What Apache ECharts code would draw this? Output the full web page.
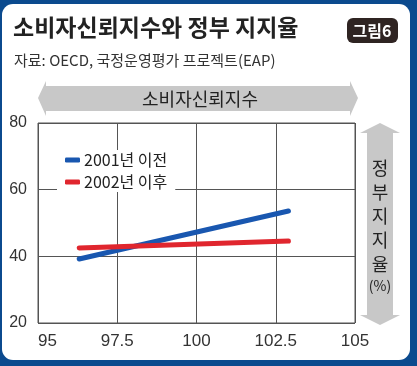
<!DOCTYPE html>
<html><head><meta charset="utf-8">
<script src="https://cdn.jsdelivr.net/npm/echarts@6/dist/echarts.min.js"></script>
<style>html,body{margin:0;padding:0;background:#0b4a8e;}#c{width:417px;height:366px;}</style>
</head><body><div id="c"></div>
<script>
const seriesNames = ['2001년 이전', '2002년 이후'];
const xPoints = [96.3, 102.9];
const before2001 = [39.2, 53.6];
const after2002 = [42.5, 44.6];
const xTicks = [95, 97.5, 100, 102.5, 105];
const yTicks = [20, 40, 60, 80];
const title = '소비자신뢰지수와 정부 지지율';
const subtitle = '자료: OECD, 국정운영평가 프로젝트(EAP)';
const badge = '그림6';
const xName = '소비자신뢰지수';
const yName = ['정','부','지','지','율','(%)'];

const numFont = '"Liberation Sans Narrow", "Liberation Sans", sans-serif';
const krFont = '"Noto Sans CJK KR", sans-serif';
const chart = echarts.init(document.getElementById('c'));
const gray = '#c8c8c8';
chart.setOption({
  backgroundColor: '#0b4a8e',
  animation: false,
  grid: {left: 38, right: 62, top: 123, bottom: 43, show: true, borderColor: '#555', borderWidth: 1, backgroundColor: 'transparent', z: 3},
  xAxis: {type: 'value', min: xTicks[0], max: xTicks[xTicks.length-1], interval: 2.5,
    axisLine: {show: false}, axisTick: {show: false},
    splitLine: {show: true, lineStyle: {color: '#555', width: 1}},
    axisLabel: {margin: 10, fontSize: 17, color: '#333', fontFamily: numFont, alignMinLabel: 'left',
      formatter: v => String(v)}},
  yAxis: {type: 'value', min: yTicks[0], max: yTicks[yTicks.length-1], interval: 20,
    axisLine: {show: false}, axisTick: {show: false},
    splitLine: {show: true, lineStyle: {color: '#555', width: 1}},
    axisLabel: {margin: 11, fontSize: 16, color: '#333', fontFamily: numFont}},
  legend: {left: 57, top: 150, orient: 'vertical', backgroundColor: '#fff', padding: [2, 8, 2, 8],
    itemWidth: 15, itemHeight: 5, itemGap: 6, icon: 'roundRect',
    textStyle: {fontSize: 16, color: '#222', fontFamily: krFont, padding: [0,0,0,-1]},
    data: seriesNames},
  series: [
    {name: seriesNames[0], type: 'line', showSymbol: false, z: 5,
     data: xPoints.map((x, i) => [x, before2001[i]]),
     itemStyle: {color: '#1957b0'}, lineStyle: {color: '#1957b0', width: 5, cap: 'round'}},
    {name: seriesNames[1], type: 'line', showSymbol: false, z: 5,
     data: xPoints.map((x, i) => [x, after2002[i]]),
     itemStyle: {color: '#e0262e'}, lineStyle: {color: '#e0262e', width: 5, cap: 'round'}}
  ],
  graphic: [
    {type: 'rect', z: -10, silent: true, shape: {x: 2, y: 4, width: 408, height: 356, r: 11}, style: {fill: '#fff'}},
    {type: 'text', z: 1, left: 13, top: 16, style: {text: title, font: 'bold 23px ' + krFont, fill: '#222'}},
    {type: 'rect', z: 1, shape: {x: 347, y: 18, width: 51, height: 25, r: 6}, style: {fill: '#2f2422'}},
    {type: 'text', z: 2, x: 372, y: 31, style: {text: badge, font: 'bold 16px ' + krFont, fill: '#fff', align: 'center', verticalAlign: 'middle'}},
    {type: 'text', z: 1, left: 14, top: 53, style: {text: subtitle, font: '15px ' + krFont, fill: '#333'}},
    {type: 'polygon', z: 1, shape: {points: [[38,98],[46,81],[46,86],[350,86],[350,81],[358,98],[350,116],[350,111],[46,111],[46,116]]}, style: {fill: gray}},
    {type: 'text', z: 2, x: 200, y: 99, style: {text: xName, font: '18px ' + krFont, fill: '#222', align: 'center', verticalAlign: 'middle'}},
    {type: 'polygon', z: 1, shape: {points: [[380,123],[400,133],[393,133],[393,315],[400,315],[380,325],[360,315],[367,315],[367,133],[360,133]]}, style: {fill: gray}},
    ...yName.map((ch, i) => ({type: 'text', z: 2, x: 380, y: 168 + i * 24 - (i === 5 ? 2 : 0),
      style: {text: ch, font: (i === 5 ? '14px ' : '18px ') + krFont, fill: '#222', align: 'center', verticalAlign: 'middle'}}))
  ]
});
</script></body></html>
